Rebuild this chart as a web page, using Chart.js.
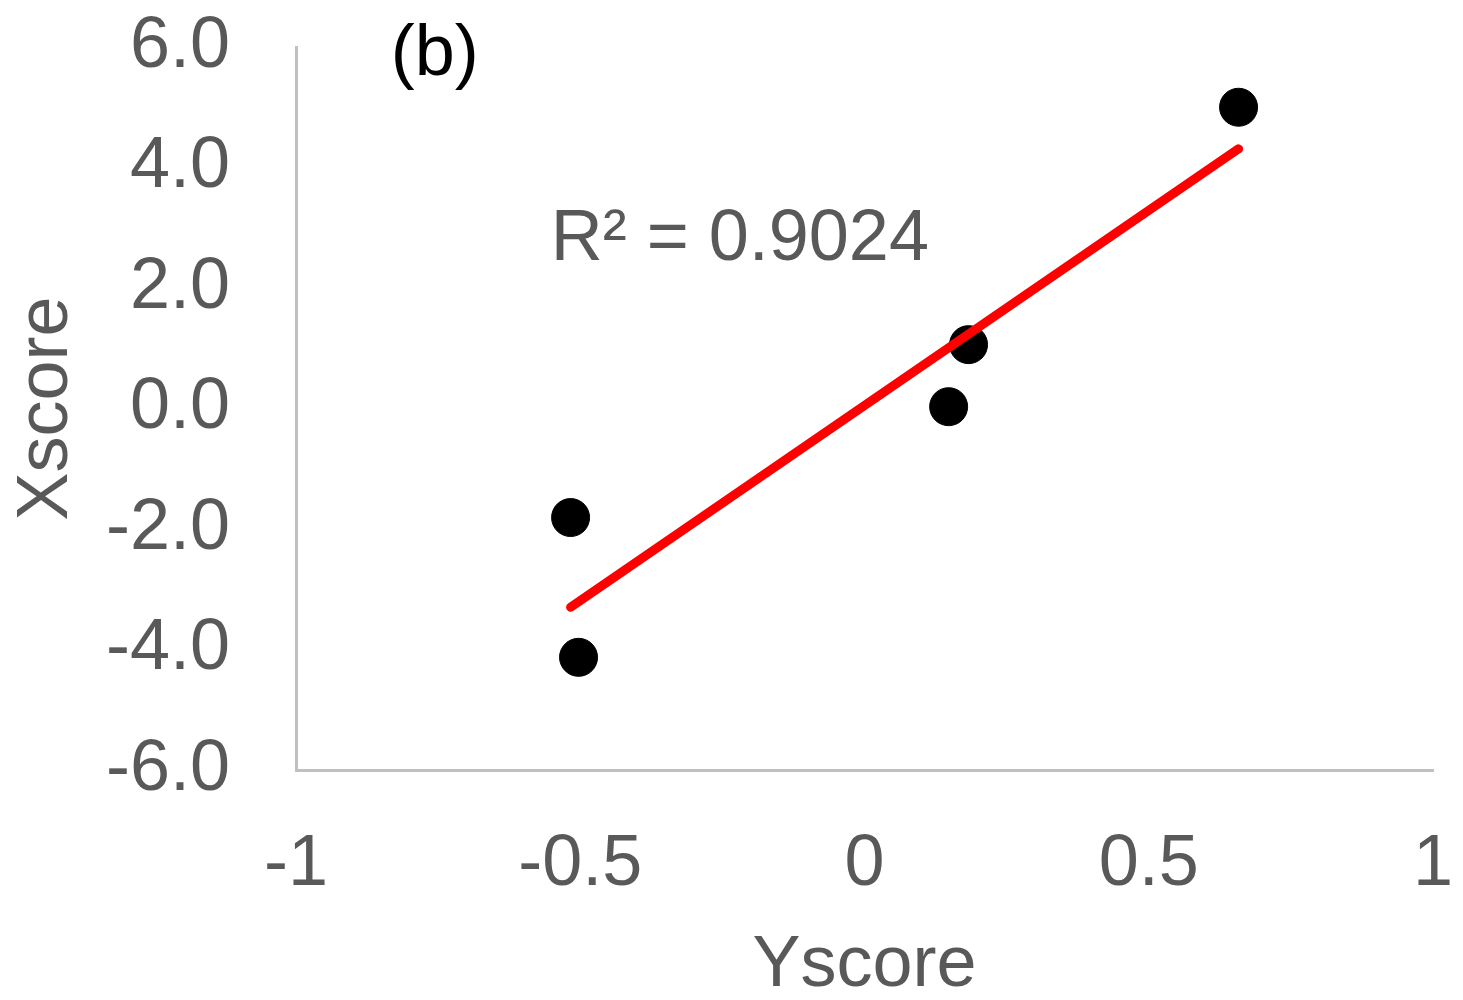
<!DOCTYPE html>
<html>
<head>
<meta charset="utf-8">
<script src="https://cdn.jsdelivr.net/npm/chart.js@4.4.1/dist/chart.umd.min.js"></script>
<style>
  html, body { margin: 0; padding: 0; background: #fff; }
  #wrap { width: 1463px; height: 1000px; }
</style>
</head>
<body>
<div id="wrap"><canvas id="chart"></canvas></div>
<script>
// --- data ---
const yScoreValues = [0.658, 0.183, 0.148, -0.517, -0.503];
const xScoreValues = [5.0, 1.06, 0.03, -1.81, -4.13];
const trendX = [-0.517, 0.658];
const trendY = [-3.30, 4.31];
const xTicks = [-1, -0.5, 0, 0.5, 1];
const yTicks = [-6, -4, -2, 0, 2, 4, 6];
const r2Label = 'R\u00b2 = 0.9024';
const panelLabel = '(b)';

const FONT = "'Liberation Sans', Arial, sans-serif";
const GREY = '#595959';

// text annotations placed with the chart's own scales
const notes = {
    id: 'notes',
    afterDraw(chart) {
        const ctx = chart.ctx;
        const sx = chart.scales.x, sy = chart.scales.y;
        ctx.save();
        ctx.font = '72px ' + FONT;
        ctx.textBaseline = 'middle';
        ctx.textAlign = 'left';
        ctx.fillStyle = GREY;
        ctx.fillText(r2Label, sx.getPixelForValue(-0.552), sy.getPixelForValue(2.8));
        ctx.fillStyle = '#000';
        ctx.textAlign = 'center';
        ctx.fillText(panelLabel, sx.getPixelForValue(-0.756), sy.getPixelForValue(5.86));
        ctx.restore();
    }
};

new Chart(document.getElementById('chart'), {
    data: {
        datasets: [{
            type: 'line',
            order: 0,
            data: trendX.map((x, i) => ({ x: x, y: trendY[i] })),
            borderColor: '#ff0000',
            borderWidth: 9,
            borderCapStyle: 'round',
            pointRadius: 0,
            fill: false
        }, {
            type: 'scatter',
            order: 1,
            data: yScoreValues.map((x, i) => ({ x: x, y: xScoreValues[i] })),
            backgroundColor: '#000',
            borderColor: '#000',
            pointRadius: 19,
            pointHoverRadius: 19
        }]
    },
    options: {
        responsive: true,
        maintainAspectRatio: false,
        animation: false,
        events: [],
        layout: { padding: { top: 47, right: 30, left: 0, bottom: 0 } },
        plugins: { legend: { display: false }, tooltip: { enabled: false } },
        scales: {
            x: {
                type: 'linear',
                min: -1, max: 1,
                afterBuildTicks: s => { s.ticks = xTicks.map(v => ({ value: v })); },
                afterFit: s => { s.height = 230; s.paddingLeft = 0; s.paddingRight = 0; },
                grid: { display: false, drawTicks: false },
                border: { color: '#c0c0c0', width: 3 },
                ticks: {
                    color: GREY, padding: 52,
                    font: { family: FONT, size: 72 },
                    callback: v => String(v)
                },
                title: {
                    display: true, text: 'Yscore', color: GREY,
                    font: { family: FONT, size: 72 }, padding: { top: 0, bottom: -9 }
                }
            },
            y: {
                type: 'linear',
                min: -6, max: 6,
                afterBuildTicks: s => { s.ticks = yTicks.map(v => ({ value: v })); },
                afterFit: s => { s.width = 296; s.paddingTop = 0; s.paddingBottom = 0; },
                grid: { display: false, drawTicks: false },
                border: { color: '#c0c0c0', width: 3 },
                ticks: {
                    color: GREY, padding: 66,
                    font: { family: FONT, size: 72 },
                    callback: v => v.toFixed(1)
                },
                title: {
                    display: true, text: 'Xscore', color: GREY,
                    font: { family: FONT, size: 72 }, padding: { top: 4, bottom: 0 }
                }
            }
        }
    },
    plugins: [notes]
});
</script>
</body>
</html>
